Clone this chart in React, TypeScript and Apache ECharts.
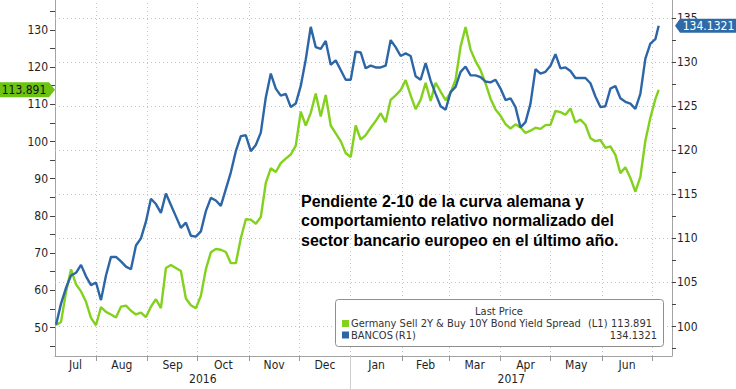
import { useEffect, useRef } from 'react';
import * as echarts from 'echarts';

// ---------- data ----------
const FIRST_SAMPLE = '2016-07-08';
const SAMPLE_STEP_DAYS = 3;
const LAST_SAMPLE = '2017-07-05';

const SPREAD_NAME = 'Germany Sell 2Y & Buy 10Y Bond Yield Spread';
const BANCOS_NAME = 'BANCOS';

// left axis (L1) - Germany 2-10 spread
const spreadValues = [
  50.7, 51.5, 59.5, 65.6, 61.6, 59.7, 56.9, 52.6, 50.6, 55.5,
  54.2, 53.5, 52.7, 55.6, 55.9, 54.5, 53.5, 54.0, 52.8, 55.6,
  57.6, 55.2, 66.0, 66.8, 66.0, 65.2, 57.8, 56.0, 55.2, 58.5,
  65.7, 70.2, 71.1, 70.9, 70.3, 67.3, 67.3, 74.0, 79.1, 79.0,
  77.9, 79.7, 88.9, 92.8, 91.8, 94.2, 95.4, 96.5, 98.9, 108.0,
  104.3, 107.7, 112.9, 106.7, 112.5, 104.3, 102.2, 100.1, 96.9, 95.8,
  104.3, 100.5, 101.7, 103.7, 105.5, 107.6, 105.2, 111.2, 112.4, 113.8,
  116.5, 112.4, 108.7, 111.2, 115.8, 110.9, 115.8, 113.4, 111.1, 113.1,
  116.6, 125.5, 130.8, 124.7, 121.6, 119.2, 115.6, 111.5, 108.6, 106.9,
  104.7, 103.5, 104.6, 103.8, 102.3, 102.9, 103.7, 103.4, 104.4, 104.5,
  108.2, 107.9, 107.2, 108.9, 105.1, 105.9, 104.5, 100.9, 100.1, 100.4,
  98.3, 98.7, 96.4, 91.5, 93.1, 90.2, 86.5, 90.5, 100.2, 106.4,
  111.4, 113.891,
];

// right axis (R1) - BANCOS
const bancosValues = [
  100.2, 102.6, 104.4, 105.8, 106.1, 107.0, 105.7, 104.7, 105.0, 103.0,
  105.8, 107.9, 107.9, 107.4, 106.8, 106.5, 109.2, 110.0, 111.9, 114.5,
  113.9, 112.9, 115.1, 113.8, 112.5, 111.2, 111.8, 110.3, 110.2, 110.8,
  113.1, 114.6, 114.3, 113.7, 115.6, 117.5, 119.9, 121.6, 121.7, 119.9,
  120.6, 122.0, 126.0, 128.7, 127.0, 126.2, 126.4, 124.9, 125.3, 127.3,
  130.3, 134.0, 131.7, 131.5, 132.4, 129.7, 130.2, 129.1, 128.0, 128.0,
  131.2, 131.1, 129.3, 129.6, 129.4, 129.4, 129.6, 132.5, 131.7, 130.7,
  131.0, 130.7, 128.4, 128.0, 129.9, 127.9, 126.4, 125.0, 124.6, 126.6,
  127.2, 128.9, 129.5, 128.5, 128.5, 128.3, 127.8, 127.7, 128.0, 127.0,
  125.7, 125.9, 124.9, 122.6, 123.2, 125.3, 129.2, 128.7, 128.9, 129.6,
  130.9, 129.3, 129.4, 129.0, 128.2, 128.2, 128.2, 127.6, 126.1, 124.9,
  125.0, 127.0, 127.3, 125.9, 125.5, 125.3, 124.7, 126.4, 130.4, 132.1,
  132.6, 134.1321,
];

const MONTH_KEYS = [
  '2016-07', '2016-08', '2016-09', '2016-10', '2016-11', '2016-12',
  '2017-01', '2017-02', '2017-03', '2017-04', '2017-05', '2017-06',
];
const MONTH_LABELS = ['Jul', 'Aug', 'Sep', 'Oct', 'Nov', 'Dec', 'Jan', 'Feb', 'Mar', 'Apr', 'May', 'Jun'];
const YEAR_LABELS = ['2016', '2017'];

const LEFT_LABELS = [50, 60, 70, 80, 90, 100, 110, 120, 130];
const LEFT_TICKS = [45, 50, 55, 60, 65, 70, 75, 80, 85, 90, 95, 100, 105, 110, 115, 120, 125, 130, 135];
const RIGHT_LABELS = [100, 105, 110, 115, 120, 125, 130, 135];
const RIGHT_TICKS = [97.5, 100, 102.5, 105, 107.5, 110, 112.5, 115, 117.5, 120, 122.5, 125, 127.5, 130, 132.5, 135];

const AXIS_START = '2016-07-07T09:00:00Z';
const AXIS_END = '2017-07-13T00:00:00Z';
const LEFT_MIN = 42.34;
const LEFT_MAX = 138.04;
const RIGHT_MIN = 96.66;
const RIGHT_MAX = 137.05;

const ANNOTATION = [
  'Pendiente 2-10 de la curva alemana y',
  'comportamiento relativo normalizado del',
  'sector bancario europeo en el último año.',
];

// ---------- styles ----------
const GREEN = '#82d11d';
const GREEN_TAG = '#6cc312';
const BLUE = '#2c66a7';
const BLUE_TAG = '#2f6aa8';
const AXIS_GRAY = '#a3a3a3';
const GRID_GRAY = '#c4c4c4';
const TEXT = '#1f1f1f';
const FONT = '"DejaVu Sans Condensed", "DejaVu Sans", sans-serif';

const DAY = 86400000;

export default function App() {
  const ref = useRef<HTMLDivElement>(null);

  useEffect(() => {
    if (!ref.current) return;
    const chart = echarts.init(ref.current, undefined, { renderer: 'svg' });

    const axisMin = Date.parse(AXIS_START);
    const axisMax = Date.parse(AXIS_END);
    const t0 = Date.parse(FIRST_SAMPLE);
    const sampleTimes = spreadValues.map((_, i) =>
      i === spreadValues.length - 1 ? Date.parse(LAST_SAMPLE) : t0 + i * SAMPLE_STEP_DAYS * DAY
    );

    const monthStart = (key: string, add = 0) => {
      const [y, m] = key.split('-').map(Number);
      return Date.UTC(y, m - 1 + add, 1);
    };

    const labelMap = new Map<number, string>();
    const monthCenters: number[] = [];
    const monthBoundaries: number[] = [];
    MONTH_KEYS.forEach((key, i) => {
      const s = Math.max(monthStart(key), axisMin);
      const e = Math.min(monthStart(key, 1), axisMax);
      const c = Math.round((s + e) / 2);
      monthCenters.push(c);
      labelMap.set(c, MONTH_LABELS[i]);
      monthBoundaries.push(monthStart(key, 1));
    });

    const yearCenters: number[] = [];
    const yearDividers: number[] = [];
    YEAR_LABELS.forEach((yl) => {
      const y = Number(yl);
      const s = Math.max(Date.UTC(y, 0, 1), axisMin);
      const e = Math.min(Date.UTC(y + 1, 0, 1), axisMax);
      const c = Math.round((s + e) / 2);
      yearCenters.push(c);
      labelMap.set(c, yl);
      const start = Date.UTC(y, 0, 1);
      if (start > axisMin && start < axisMax) yearDividers.push(start);
    });

    const fmt = (v: number) => labelMap.get(Math.round(v)) ?? '';

    const lastSpread = spreadValues[spreadValues.length - 1];
    const lastBancos = bancosValues[bancosValues.length - 1];
    const bancosData = sampleTimes.map((t, i) => [t, bancosValues[i]]);

    // dates are kept as epoch milliseconds on a linear (value) axis
    const baseX = {
      type: 'value',
      min: axisMin,
      max: axisMax,
      position: 'bottom',
      offset: 0,
      scale: true,
      splitLine: { show: false },
    };

    const dotted = { type: [1, 3], color: GRID_GRAY, width: 1, opacity: 1 };
    const LZ = 20;
    const legendFont = `11px ${FONT}`;

    const option: any = {
      animation: false,
      grid: { left: 55, right: 64, top: 0, bottom: 33, containLabel: false },
      xAxis: [
        {
          ...baseX,
          axisLine: { show: true, onZero: false, lineStyle: { color: AXIS_GRAY, width: 1 } },
          axisTick: { show: true, customValues: monthBoundaries, length: 5, lineStyle: { color: '#9a9a9a' } },
          axisLabel: { show: false },
        },
        {
          ...baseX,
          axisLine: { show: false, onZero: false },
          axisTick: { show: false },
          axisLabel: {
            show: true, customValues: monthCenters, formatter: fmt, margin: 3,
            fontSize: 12, color: TEXT, fontFamily: FONT, hideOverlap: false,
          },
        },
        {
          ...baseX,
          axisLine: { show: false, onZero: false },
          axisTick: { show: true, customValues: yearDividers, length: 33, lineStyle: { color: '#cfcfcf' } },
          axisLabel: {
            show: true, customValues: yearCenters, formatter: fmt, margin: 17,
            fontSize: 12, color: TEXT, fontFamily: FONT, hideOverlap: false,
          },
        },
      ],
      yAxis: [
        {
          type: 'value', position: 'left', min: LEFT_MIN, max: LEFT_MAX,
          axisLine: { show: true, lineStyle: { color: AXIS_GRAY, width: 1 } },
          axisTick: { show: true, customValues: LEFT_TICKS, length: 5, lineStyle: { color: '#444' } },
          axisLabel: { customValues: LEFT_LABELS, margin: 7, fontSize: 12, color: TEXT, fontFamily: FONT },
          splitLine: { show: false },
        },
        {
          type: 'value', position: 'right', min: RIGHT_MIN, max: RIGHT_MAX,
          axisLine: { show: true, lineStyle: { color: AXIS_GRAY, width: 1 } },
          axisTick: { show: true, customValues: RIGHT_TICKS, length: 4, lineStyle: { color: '#444' } },
          axisLabel: { customValues: RIGHT_LABELS, margin: 5, fontSize: 12, color: TEXT, fontFamily: FONT },
          splitLine: { show: false },
        },
      ],
      series: [
        {
          // carrier for the dotted grid, drawn beneath both lines
          name: 'grid',
          type: 'line',
          yAxisIndex: 1,
          data: bancosData,
          showSymbol: false,
          symbol: 'none',
          silent: true,
          z: 1,
          lineStyle: { color: 'rgba(0,0,0,0)', width: 1 },
          itemStyle: { color: GRID_GRAY },
          markLine: {
            silent: true,
            z: 1,
            symbol: ['none', 'none'],
            label: { show: false },
            emphasis: { disabled: true },
            lineStyle: dotted,
            data: [
              ...RIGHT_LABELS.map((v) => ({ yAxis: v, lineStyle: dotted })),
              ...monthBoundaries.filter((t) => t < axisMax).map((t) => ({ xAxis: t, lineStyle: dotted })),
            ],
          },
        },
        {
          name: SPREAD_NAME,
          type: 'line',
          yAxisIndex: 0,
          data: sampleTimes.map((t, i) => [t, spreadValues[i]]),
          showSymbol: false,
          symbol: 'none',
          clip: false,
          z: 2,
          lineStyle: { color: GREEN, width: 2.4 },
          itemStyle: { color: GREEN },
          markPoint: {
            silent: true,
            symbol: 'path://M0,0 L50,0 L56,7.5 L50,15 L0,15 Z',
            symbolSize: [56, 15],
            symbolOffset: [-28, 0],
            symbolKeepAspect: false,
            itemStyle: { color: GREEN_TAG },
            label: {
              show: true, position: 'inside', formatter: String(lastSpread),
              color: '#111', fontSize: 12, fontFamily: FONT, offset: [-3, 0],
            },
            data: [{ coord: [axisMin, lastSpread] }],
          },
        },
        {
          name: BANCOS_NAME,
          type: 'line',
          yAxisIndex: 1,
          data: bancosData,
          showSymbol: false,
          symbol: 'none',
          clip: false,
          z: 3,
          lineStyle: { color: BLUE, width: 2.4 },
          itemStyle: { color: BLUE },
          markPoint: {
            silent: true,
            symbol: 'path://M0,7 L5,0 L62,0 L62,14 L5,14 Z',
            symbolSize: [62, 14],
            symbolOffset: [34, 0],
            symbolKeepAspect: false,
            itemStyle: { color: BLUE_TAG },
            label: {
              show: true, position: 'inside', formatter: String(lastBancos),
              color: '#fff', fontSize: 12, fontFamily: FONT, offset: [2.5, 0],
            },
            data: [{ coord: [axisMax, lastBancos] }],
          },
        },
      ],
      graphic: [
        {
          type: 'text',
          x: 301,
          y: 191.5,
          z: LZ,
          style: {
            text: ANNOTATION.join('\n'),
            fill: '#000',
            font: 'bold 16px "Liberation Sans", Arial, sans-serif',
            lineHeight: 19.5,
            textAlign: 'left',
            textVerticalAlign: 'top',
          },
        },
        {
          type: 'rect', z: LZ,
          shape: { x: 335.5, y: 299.5, width: 328, height: 47, r: 3 },
          style: { fill: '#fff', stroke: '#8f8f8f', lineWidth: 1 },
        },
        {
          type: 'text', x: 499, y: 311, z: LZ + 1,
          style: { text: 'Last Price', fill: '#333', font: legendFont, textAlign: 'center', textVerticalAlign: 'middle' },
        },
        { type: 'rect', z: LZ + 1, shape: { x: 342, y: 320, width: 7, height: 7 }, style: { fill: GREEN } },
        {
          type: 'text', x: 351, y: 323.5, z: LZ + 1,
          style: { text: SPREAD_NAME, fill: '#333', font: legendFont, textAlign: 'left', textVerticalAlign: 'middle' },
        },
        {
          type: 'text', x: 588, y: 323.5, z: LZ + 1,
          style: { text: '(L1)', fill: '#333', font: legendFont, textAlign: 'left', textVerticalAlign: 'middle' },
        },
        {
          type: 'text', x: 652, y: 323.5, z: LZ + 1,
          style: { text: String(lastSpread), fill: '#333', font: legendFont, textAlign: 'right', textVerticalAlign: 'middle' },
        },
        { type: 'rect', z: LZ + 1, shape: { x: 342, y: 331.5, width: 7, height: 7 }, style: { fill: BLUE } },
        {
          type: 'text', x: 351, y: 335, z: LZ + 1,
          style: { text: BANCOS_NAME, fill: '#333', font: legendFont, textAlign: 'left', textVerticalAlign: 'middle' },
        },
        {
          type: 'text', x: 395, y: 335, z: LZ + 1,
          style: { text: '(R1)', fill: '#333', font: legendFont, textAlign: 'left', textVerticalAlign: 'middle' },
        },
        {
          type: 'text', x: 657, y: 335, z: LZ + 1,
          style: { text: String(lastBancos), fill: '#333', font: legendFont, textAlign: 'right', textVerticalAlign: 'middle' },
        },
      ],
    };

    chart.setOption(option);
    return () => chart.dispose();
  }, []);

  return (
    <div
      ref={ref}
      style={{ position: 'fixed', left: 0, top: 0, width: 736, height: 389, background: '#fff' }}
    />
  );
}
